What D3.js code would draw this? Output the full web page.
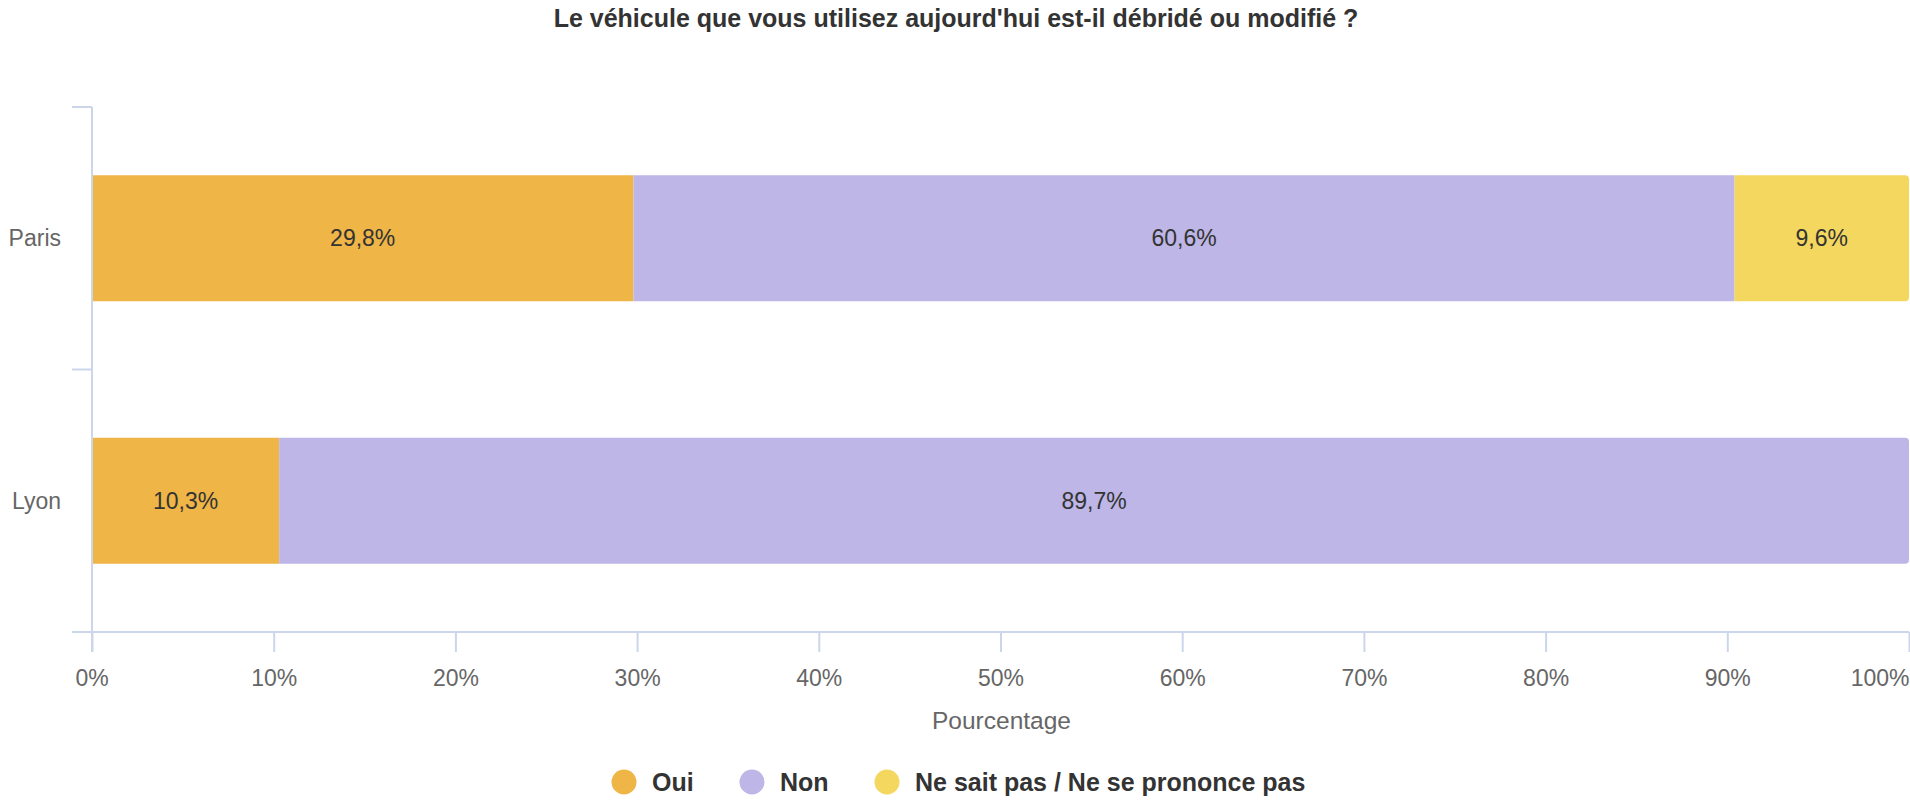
<!DOCTYPE html>
<meta charset="utf-8">
<script src="https://cdn.jsdelivr.net/npm/d3@7"></script>
<style>
body{margin:0;background:#fff;}
text{font-family:"Liberation Sans", Arial, sans-serif;}
</style>
<div id="vis"></div>
<script>

// data
var cities = ["Paris", "Lyon"];
var series = ["Oui", "Non", "Ne sait pas / Ne se prononce pas"];
var colors = ["#efb547", "#bdb6e6", "#f4d75e"];
var oui = [29.8, 10.3];
var non = [60.6, 89.7];
var nsp = [9.6, 0];
var xTicks = [0, 10, 20, 30, 40, 50, 60, 70, 80, 90, 100];

var w = 1910, h = 801;
var plotLeft = 92, plotRight = 1909, plotTop = 107, plotBottom = 632;

var svg = d3.select("#vis").append("svg")
    .attr("width", w)
    .attr("height", h);

var x = d3.scaleLinear().domain([0, 100]).range([plotLeft, plotRight]);
var y = d3.scaleBand().domain(cities).range([plotTop, plotBottom]).padding(0);
var barH = 126;

// title
svg.append("text")
    .attr("x", 956).attr("y", 18)
    .attr("text-anchor", "middle").attr("dominant-baseline", "central")
    .style("font-size", "25px").style("font-weight", "bold").style("fill", "#333")
    .text("Le véhicule que vous utilisez aujourd'hui est-il débridé ou modifié ?");

// stacked data
var rows = cities.map(function(c, i) {
  var vals = [oui[i], non[i], nsp[i]];
  var x0 = 0, segs = [];
  vals.forEach(function(v, k) {
    if (v > 0) segs.push({city: c, k: k, x0: x0, x1: x0 + v, v: v});
    x0 += v;
  });
  segs[segs.length - 1].last = true;
  return segs;
});

function segPath(d) {
  var x0 = x(d.x0), x1 = x(d.x1);
  var y0 = y(d.city) + (y.bandwidth() - barH) / 2, y1 = y0 + barH;
  if (!d.last) return "M" + x0 + "," + y0 + "H" + x1 + "V" + y1 + "H" + x0 + "Z";
  var r = 4;
  return "M" + x0 + "," + y0 + "H" + (x1 - r) + "Q" + x1 + "," + y0 + " " + x1 + "," + (y0 + r) +
    "V" + (y1 - r) + "Q" + x1 + "," + y1 + " " + (x1 - r) + "," + y1 + "H" + x0 + "Z";
}

var segs = svg.append("g").selectAll("g")
    .data(d3.merge(rows))
  .enter().append("g");

segs.append("path")
    .attr("d", segPath)
    .attr("fill", function(d) { return colors[d.k]; });

segs.append("text")
    .attr("x", function(d) { return (x(d.x0) + x(d.x1)) / 2; })
    .attr("y", function(d) { return y(d.city) + y.bandwidth() / 2; })
    .attr("text-anchor", "middle").attr("dominant-baseline", "central")
    .style("font-size", "23px").style("fill", "#333")
    .text(function(d) { return d.v.toFixed(1).replace(".", ",") + "%"; });

// axes
var axisColor = "#ccd6eb";
var xAxis = svg.append("g")
    .attr("transform", "translate(0," + plotBottom + ")")
    .call(d3.axisBottom(x).tickValues(xTicks).tickSize(20).tickSizeOuter(0)
      .tickFormat(function(d) { return d + "%"; }));
xAxis.select(".domain").remove();
xAxis.selectAll("line").attr("stroke", axisColor).attr("stroke-width", 2);
xAxis.selectAll("text").attr("y", 46).attr("dy", "0.35em")
    .style("font-size", "23px").style("fill", "#666")
    .attr("text-anchor", function(d) { return d === 100 ? "end" : d === 0 ? "start" : "middle"; })
    .attr("dx", function(d) { return d === 100 ? 0 : d === 0 ? -17 : 0; });

svg.append("line")
    .attr("x1", 72).attr("x2", plotRight).attr("y1", plotBottom).attr("y2", plotBottom)
    .attr("stroke", axisColor).attr("stroke-width", 2);
svg.append("line")
    .attr("x1", plotLeft).attr("x2", plotLeft).attr("y1", plotTop).attr("y2", plotBottom + 20)
    .attr("stroke", axisColor).attr("stroke-width", 2);

// category ticks at band edges
svg.append("g").selectAll("line")
    .data(cities)
  .enter().append("line")
    .attr("x1", 72).attr("x2", plotLeft)
    .attr("y1", function(d) { return y(d); }).attr("y2", function(d) { return y(d); })
    .attr("stroke", axisColor).attr("stroke-width", 2);

svg.append("g").selectAll("text")
    .data(cities)
  .enter().append("text")
    .attr("x", 61)
    .attr("y", function(d) { return y(d) + y.bandwidth() / 2; })
    .attr("text-anchor", "end").attr("dominant-baseline", "central")
    .style("font-size", "23px").style("fill", "#666")
    .text(function(d) { return d; });

svg.append("text")
    .attr("x", (plotLeft + plotRight) / 2 + 1).attr("y", 720)
    .attr("text-anchor", "middle").attr("dominant-baseline", "central")
    .style("font-size", "24.5px").style("fill", "#666")
    .text("Pourcentage");

// legend
var legendX = [624, 752, 887];
var legend = svg.append("g").selectAll("g")
    .data(series)
  .enter().append("g")
    .attr("transform", function(d, i) { return "translate(" + legendX[i] + ",782)"; });
legend.append("circle").attr("r", 12.5).attr("fill", function(d, i) { return colors[i]; });
legend.append("text")
    .attr("x", 28).attr("dominant-baseline", "central")
    .style("font-size", "25px").style("font-weight", "bold").style("fill", "#333")
    .text(function(d) { return d; });

</script>
